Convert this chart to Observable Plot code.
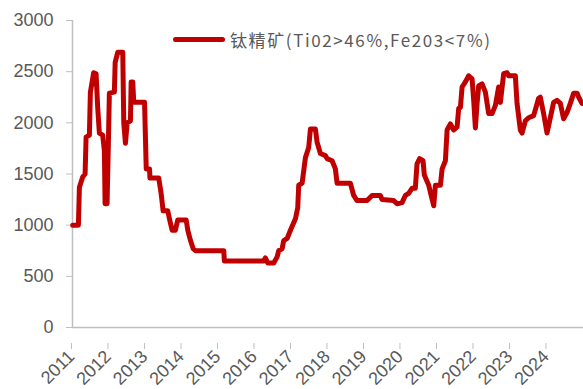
<!DOCTYPE html>
<html>
<head>
<meta charset="utf-8">
<script src="https://cdn.jsdelivr.net/npm/d3@7"></script>
<script src="https://cdn.jsdelivr.net/npm/@observablehq/plot@0.6"></script>
<style>
  html, body { margin: 0; padding: 0; background: #fff; }
  #wrap { position: relative; width: 583px; height: 389px; overflow: hidden; }
  #legend { position: absolute; left: 173px; top: 27px; display: flex; align-items: center;
            font-family: "Noto Sans CJK SC", sans-serif; font-size: 17px; color: #595959; white-space: nowrap; }
  #legend .sw { width: 52px; height: 5px; background: #C00000; border-radius: 3px; margin-right: 5px; }
  #legend #ltext { letter-spacing: 1.6px; }
</style>
</head>
<body>
<div id="wrap">
  <div id="chart"></div>
  <div id="legend"><span class="sw"></span><span id="ltext"></span></div>
</div>
<script>
const seriesName = "钛精矿(Ti02>46%,Fe203<7%)";
const yearLabels = ["2011","2012","2013","2014","2015","2016","2017","2018","2019","2020","2021","2022","2023","2024"];
const yTicks = [0, 500, 1000, 1500, 2000, 2500, 3000];
const dates = [
  "2011-01-03","2011-03-01","2011-03-11","2011-04-13","2011-05-07","2011-05-17","2011-06-19","2011-06-29","2011-08-01","2011-08-25",
  "2011-09-10","2011-09-27","2011-10-30","2011-11-16","2011-11-23","2011-12-13","2011-12-26","2012-01-05","2012-02-24","2012-03-03",
  "2012-03-29","2012-05-18","2012-05-28","2012-06-14","2012-07-01","2012-08-03","2012-08-10","2012-08-26","2012-09-05","2012-12-22",
  "2013-01-08","2013-02-10","2013-02-14","2013-05-13","2013-06-06","2013-06-26","2013-08-11","2013-08-31","2013-09-24","2013-10-27",
  "2013-11-19","2014-02-12","2014-02-28","2014-03-27","2014-04-23","2014-05-16","2015-02-23","2015-03-01","2016-03-28","2016-04-14",
  "2016-05-08","2016-07-07","2016-08-10","2016-08-26","2016-09-29","2016-10-15","2016-11-18","2016-12-21","2017-02-10","2017-03-04",
  "2017-03-14","2017-04-17","2017-05-20","2017-06-22","2017-07-09","2017-08-28","2017-09-14","2017-10-17","2017-12-06","2017-12-23",
  "2018-02-11","2018-03-16","2018-04-02","2018-08-13","2018-09-15","2018-10-19","2019-01-27","2019-03-18","2019-06-09","2019-06-26",
  "2019-10-20","2019-11-23","2020-01-12","2020-02-14","2020-03-18","2020-04-21","2020-05-24","2020-06-10","2020-07-06","2020-08-09",
  "2020-08-22","2020-10-05","2020-10-22","2020-11-24","2020-12-11","2021-01-30","2021-02-16","2021-03-21","2021-04-07","2021-05-10",
  "2021-06-12","2021-07-16","2021-08-01","2021-08-18","2021-09-04","2021-10-07","2021-11-09","2021-12-13","2021-12-29","2022-01-15",
  "2022-02-01","2022-02-17","2022-03-23","2022-04-25","2022-05-28","2022-07-01","2022-08-03","2022-09-05","2022-09-22","2022-10-25",
  "2022-11-28","2022-12-14","2023-02-19","2023-03-08","2023-04-10","2023-04-27","2023-05-30","2023-07-02","2023-08-21","2023-10-10",
  "2023-10-27","2023-11-29","2024-01-02","2024-02-04","2024-03-08","2024-04-11","2024-05-14","2024-06-16","2024-07-20","2024-08-22",
  "2024-09-25","2024-10-29","2024-11-14","2024-12-17"
];
const prices = [
  1000,1000,1370,1470,1500,1860,1880,2300,2490,2480,
  2150,1900,1880,1730,1210,1210,1800,2290,2300,2590,
  2690,2690,2000,1800,2000,2020,2400,2400,2200,2200,
  1550,1550,1460,1460,1310,1140,1140,1050,950,950,
  1050,1050,950,850,770,750,750,650,650,680,
  630,630,690,750,770,850,870,950,1065,1170,
  1390,1410,1660,1760,1940,1940,1810,1700,1680,1650,
  1630,1550,1410,1410,1290,1240,1240,1290,1290,1250,
  1240,1210,1220,1290,1310,1360,1360,1600,1650,1630,
  1490,1390,1320,1190,1390,1390,1550,1630,1930,1990,
  1930,1960,2140,2150,2350,2400,2460,2430,2220,1950,
  2190,2360,2380,2300,2090,2090,2170,2350,2200,2480,
  2490,2460,2460,2190,1930,1900,2020,2050,2070,2240,
  2250,2090,1900,2050,2200,2220,2190,2040,2100,2190,
  2290,2290,2250,2190
];

const data = dates.map((d, i) => ({date: new Date(d + "T00:00:00Z"), value: prices[i]}));
const yearDates = yearLabels.map(y => new Date(y + "-01-01T00:00:00Z"));
const x0 = yearDates[0];
const x1 = new Date("2025-01-01T00:00:00Z");
const grey = "#BFBFBF";
const textGrey = "#595959";

const chart = Plot.plot({
  width: 583,
  height: 389,
  marginLeft: 72,
  marginRight: 0,
  marginTop: 20,
  marginBottom: 62,
  style: {fontFamily: "'Liberation Sans', Arial, sans-serif", fontSize: "18px", color: textGrey, background: "#fff", overflow: "visible"},
  x: {type: "utc", domain: [x0, x1]},
  y: {domain: [0, 3000]},
  marks: [
    Plot.ruleY([0], {stroke: grey, strokeWidth: 1.5}),
    Plot.ruleX([x0], {stroke: grey, strokeWidth: 1.5}),
    Plot.axisY({ticks: yTicks, tickSize: 6, tickPadding: 13, stroke: grey, fill: textGrey, tickFormat: d => String(d), label: null, fontSize: 18}),
    Plot.axisX({ticks: yearDates, tickSize: 6, tickPadding: 4, tickRotate: -45, stroke: grey, fill: textGrey, tickFormat: d => String(d.getUTCFullYear()), label: null, fontSize: 18, dx: -1, dy: 16}),
    Plot.line(data, {x: "date", y: "value", stroke: "#C00000", strokeWidth: 5, strokeLinejoin: "round", strokeLinecap: "round"})
  ]
});
document.getElementById("chart").appendChild(chart);
document.getElementById("ltext").textContent = seriesName;
</script>
</body>
</html>
